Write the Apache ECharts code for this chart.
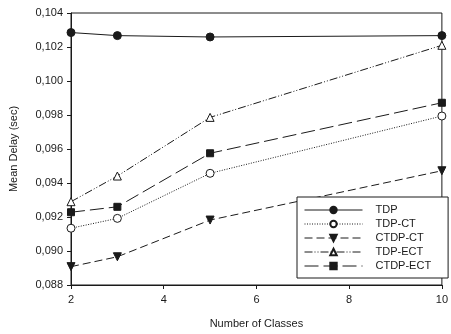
<!DOCTYPE html>
<html>
<head>
<meta charset="utf-8">
<script src="https://cdn.jsdelivr.net/npm/echarts@6/dist/echarts.min.js"></script>
<style>
  html, body { margin: 0; padding: 0; background: #fff; }
  #chart { width: 451px; height: 334px; }
</style>
</head>
<body>
<div id="chart"></div>
<script>
// Number of traffic classes on the x axis
const classes = [2, 3, 5, 10];

// Mean delay (sec) for each scheme
const tdp     = [0.10285, 0.10267, 0.10259, 0.10267];
const tdpCt   = [0.09134, 0.09192, 0.09457, 0.09794];
const ctdpCt  = [0.08908, 0.08966, 0.09182, 0.09472];
const tdpEct  = [0.09290, 0.09441, 0.09786, 0.10210];
const ctdpEct = [0.09228, 0.09260, 0.09575, 0.09872];

const seriesNames = ['TDP', 'TDP-CT', 'CTDP-CT', 'TDP-ECT', 'CTDP-ECT'];

const pairs = vals => classes.map((c, i) => [c, vals[i]]);
const ink = '#1a1a1a';
const font = 'Liberation Sans, Arial, sans-serif';

function lineSeries(name, vals, symbol, filled, dash, extra) {
  return Object.assign({
    name: name,
    type: 'line',
    data: pairs(vals),
    symbol: symbol,
    symbolSize: 8,
    showSymbol: true,
    lineStyle: { color: ink, width: 1, type: dash },
    itemStyle: {
      color: filled ? ink : '#fff',
      borderColor: ink,
      borderWidth: 1
    },
    emphasis: { disabled: true },
    animation: false
  }, extra || {});
}

const chart = echarts.init(document.getElementById('chart'));
chart.setOption({
  animation: false,
  grid: {
    left: 68, right: 4, top: 13, bottom: 49,
    show: true, borderColor: ink, borderWidth: 1, backgroundColor: 'transparent'
  },
  xAxis: {
    type: 'value', min: 2, max: 10, interval: 2,
    name: 'Number of Classes', nameLocation: 'middle', nameGap: 33,
    nameTextStyle: { color: ink, fontSize: 11, fontFamily: font },
    axisLine: { show: true, lineStyle: { color: ink } },
    axisTick: { show: true, length: 4, lineStyle: { color: ink } },
    axisLabel: { color: ink, fontSize: 11, fontFamily: font, margin: 9 },
    splitLine: { show: false }
  },
  yAxis: {
    type: 'value', min: 0.088, max: 0.104, interval: 0.002,
    name: 'Mean Delay (sec)', nameLocation: 'middle', nameGap: 52,
    nameTextStyle: { color: ink, fontSize: 11, fontFamily: font },
    axisLine: { show: true, lineStyle: { color: ink } },
    axisTick: { show: true, length: 4, lineStyle: { color: ink } },
    axisLabel: {
      color: ink, fontSize: 11, fontFamily: font, margin: 8,
      formatter: v => v.toFixed(3).replace('.', ',')
    },
    splitLine: { show: false }
  },
  legend: {
    orient: 'vertical',
    left: 297, top: 197,
    padding: [6, 17, 5, 7],
    itemGap: 0,
    itemWidth: 58, itemHeight: 8,
    backgroundColor: '#fff',
    borderColor: ink, borderWidth: 1, borderRadius: 0,
    lineStyle: { width: 1 },
    textStyle: { color: ink, fontSize: 11, fontFamily: font, lineHeight: 14, padding: [0, 0, 0, 8] },
    data: seriesNames,
    selectedMode: false
  },
  series: [
    lineSeries(seriesNames[0], tdp, 'circle', true, 'solid'),
    lineSeries(seriesNames[1], tdpCt, 'circle', false, [1, 1.5]),
    lineSeries(seriesNames[2], ctdpCt, 'triangle', true, [8, 4], { symbolRotate: 180 }),
    lineSeries(seriesNames[3], tdpEct, 'triangle', false, [8, 2, 1, 2, 1, 2]),
    lineSeries(seriesNames[4], ctdpEct, 'rect', true, [14, 5], { symbolSize: 7 })
  ]
});
</script>
</body>
</html>
